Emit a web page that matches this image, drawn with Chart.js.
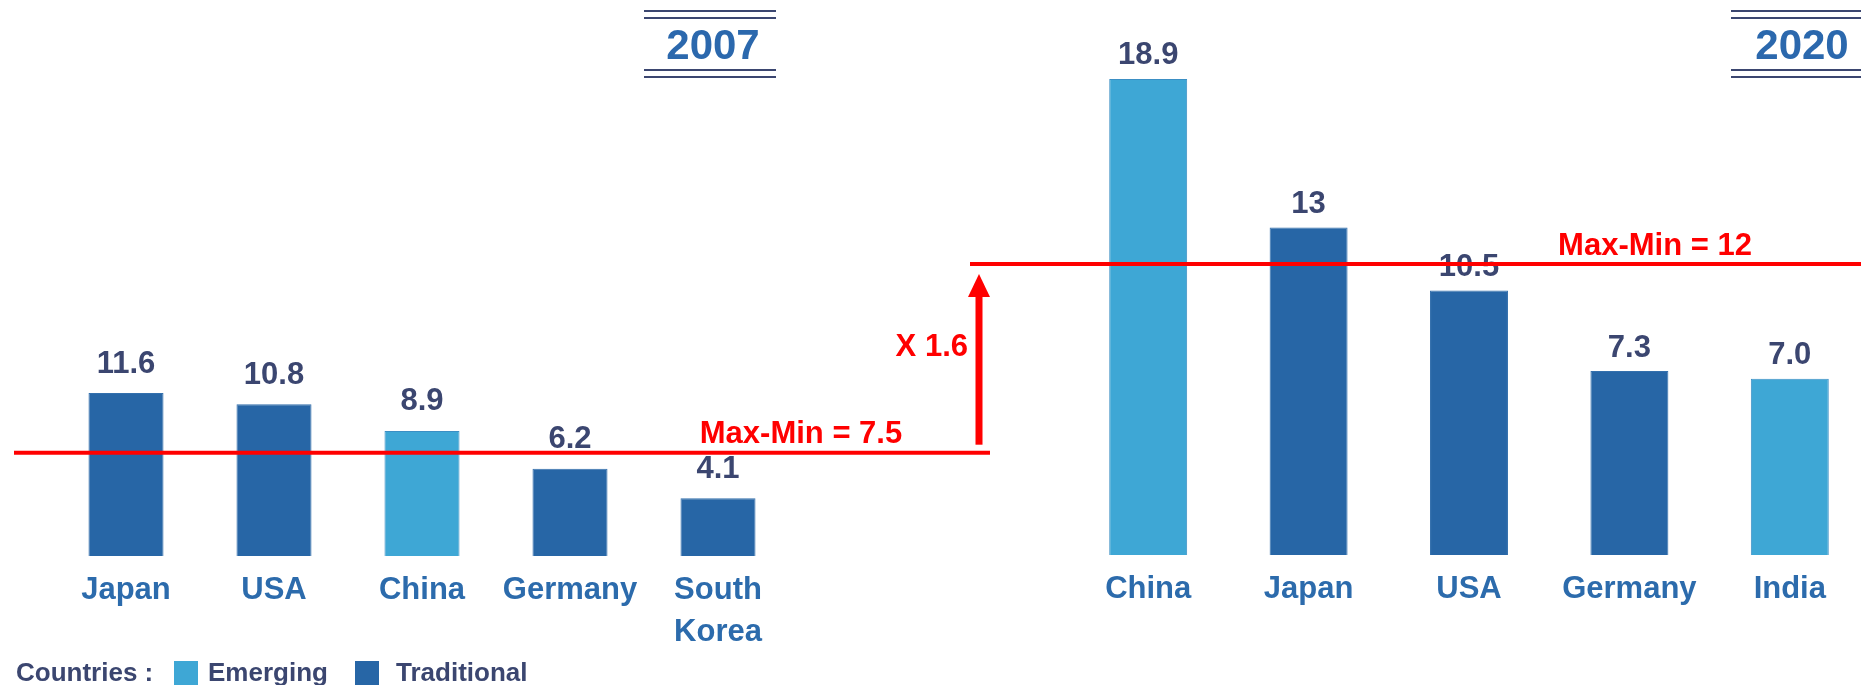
<!DOCTYPE html>
<html>
<head>
<meta charset="utf-8">
<script src="https://cdn.jsdelivr.net/npm/chart.js@4/dist/chart.umd.min.js"></script>
<style>
  html, body { margin: 0; padding: 0; background: #fff; overflow: hidden; width: 1861px; height: 685px; }
  body { position: relative; font-family: 'Liberation Sans', Arial, sans-serif; font-weight: bold; }
  canvas { position: absolute; top: 0; }
  #c2007 { left: 0; }
  #c2020 { left: 960px; }
  .rule { position: absolute; height: 2px; background: #3b4670; }
  .year { position: absolute; color: #2b68ad; font-size: 42px; line-height: 42px; text-align: center; top: 24px; }
  .legend { position: absolute; top: 657px; font-size: 26px; line-height: 30px; color: #3b4670; }
  .sw { position: absolute; top: 661px; width: 24px; height: 24px; }
</style>
</head>
<body>
<canvas id="c2007" width="990" height="685"></canvas>
<canvas id="c2020" width="920" height="685"></canvas>

<div class="rule" style="left:644px;width:132px;top:10px"></div>
<div class="rule" style="left:644px;width:132px;top:17px"></div>
<div class="year" style="left:647px;width:132px">2007</div>
<div class="rule" style="left:644px;width:132px;top:69px"></div>
<div class="rule" style="left:644px;width:132px;top:76px"></div>

<div class="rule" style="left:1731px;width:140px;top:10px"></div>
<div class="rule" style="left:1731px;width:140px;top:17px"></div>
<div class="year" style="left:1742px;width:120px">2020</div>
<div class="rule" style="left:1731px;width:140px;top:69px"></div>
<div class="rule" style="left:1731px;width:140px;top:76px"></div>

<div class="legend" style="left:16px">Countries :</div>
<div class="sw" style="left:174px;background:#3ea7d5"></div>
<div class="legend" style="left:208px">Emerging</div>
<div class="sw" style="left:355px;background:#2766a6"></div>
<div class="legend" style="left:396px">Traditional</div>

<script>
// data
const countries2007 = ['Japan', 'USA', 'China', 'Germany', ['South', 'Korea']];
const values2007 = [11.6, 10.8, 8.9, 6.2, 4.1];
const labels2007 = ['11.6', '10.8', '8.9', '6.2', '4.1'];
const groups2007 = ['Traditional', 'Traditional', 'Emerging', 'Traditional', 'Traditional'];

const countries2020 = ['China', 'Japan', 'USA', 'Germany', 'India'];
const values2020 = [18.9, 13, 10.5, 7.3, 7.0];
const labels2020 = ['18.9', '13', '10.5', '7.3', '7.0'];
const groups2020 = ['Emerging', 'Traditional', 'Traditional', 'Traditional', 'Emerging'];

const refLine2007 = 7.35;
const refLine2020 = 11.55;
const refText2007 = 'Max-Min = 7.5';
const refText2020 = 'Max-Min = 12';
const growthText = 'X 1.6';

const groupColors = { Emerging: '#3ea7d5', Traditional: '#2766a6' };
const groupBorders = { Emerging: '#3b8fc4', Traditional: '#3470ad' };
const FONT = "'Liberation Sans', Arial, sans-serif";

let chart2007;

const valueLabels = {
    id: 'valueLabels',
    afterDatasetsDraw(chart) {
        const ctx = chart.ctx;
        const o = chart.options.plugins.valueLabels;
        ctx.save();
        ctx.font = 'bold 31px ' + FONT;
        ctx.fillStyle = '#3b4670';
        ctx.textAlign = 'center';
        ctx.textBaseline = 'middle';
        chart.getDatasetMeta(0).data.forEach((bar, i) => {
            ctx.fillText(o.texts[i], bar.x, bar.y - o.offset);
        });
        ctx.restore();
    }
};

function redText(ctx, txt, x, y, align) {
    ctx.font = 'bold 31px ' + FONT;
    ctx.fillStyle = '#ff0000';
    ctx.textAlign = align;
    ctx.textBaseline = 'middle';
    ctx.fillText(txt, x, y);
}

const refLines = {
    id: 'refLines',
    afterDraw(chart) {
        const ctx = chart.ctx;
        const o = chart.options.plugins.refLines;
        const y = chart.scales.y.getPixelForValue(o.value);
        ctx.save();
        ctx.strokeStyle = '#ff0000';
        ctx.lineWidth = 4;
        ctx.beginPath();
        ctx.moveTo(o.from, y);
        ctx.lineTo(o.to, y);
        ctx.stroke();
        redText(ctx, o.text, o.textX, y - 18, 'center');

        if (o.arrow && chart2007) {
            // arrow from the 2007 level up to the 2020 level
            const yLow = chart2007.scales.y.getPixelForValue(refLine2007) - 8;
            const yTip = y + 10;
            const ax = 19;
            ctx.fillStyle = '#ff0000';
            ctx.fillRect(ax - 3.5, yTip + 20, 7, yLow - yTip - 20);
            ctx.beginPath();
            ctx.moveTo(ax, yTip);
            ctx.lineTo(ax - 11, yTip + 23);
            ctx.lineTo(ax + 11, yTip + 23);
            ctx.closePath();
            ctx.fill();
        }
        if (o.growth) {
            redText(ctx, growthText, 968, 347, 'right');
        }
        ctx.restore();
    }
};

function makeChart(id, cats, vals, groups, texts, yMax, pad, barPct, labelOffset, lines) {
    return new Chart(document.getElementById(id), {
        type: 'bar',
        data: {
            labels: cats,
            datasets: [{
                data: vals,
                backgroundColor: groups.map(g => groupColors[g]),
                borderColor: groups.map(g => groupBorders[g]),
                borderWidth: 1,
                barPercentage: barPct,
                categoryPercentage: 1
            }]
        },
        options: {
            responsive: false,
            animation: false,
            devicePixelRatio: 1,
            layout: { padding: pad },
            plugins: {
                legend: { display: false },
                tooltip: { enabled: false },
                valueLabels: { texts: texts, offset: labelOffset },
                refLines: lines
            },
            scales: {
                x: {
                    grid: { display: false, drawTicks: false },
                    border: { display: false },
                    ticks: {
                        autoSkip: false,
                        maxRotation: 0,
                        padding: 13,
                        color: '#2c6bac',
                        font: { family: FONT, size: 31, weight: 'bold', lineHeight: 42 / 31 }
                    }
                },
                y: { display: false, min: 0, max: yMax }
            }
        },
        plugins: [valueLabels, refLines]
    });
}

chart2007 = makeChart('c2007', countries2007, values2007, groups2007, labels2007, 36,
    { top: 50, left: 52, right: 198, bottom: 19 }, 0.507, 29,
    { value: refLine2007, from: 14, to: 990, text: refText2007, textX: 801, growth: true });

makeChart('c2020', countries2020, values2020, groups2020, labels2020, 21,
    { top: 26, left: 108, right: 10, bottom: 62 }, 0.486, 23,
    { value: refLine2020, from: 10, to: 920, text: refText2020, textX: 695, arrow: true });
</script>
</body>
</html>
